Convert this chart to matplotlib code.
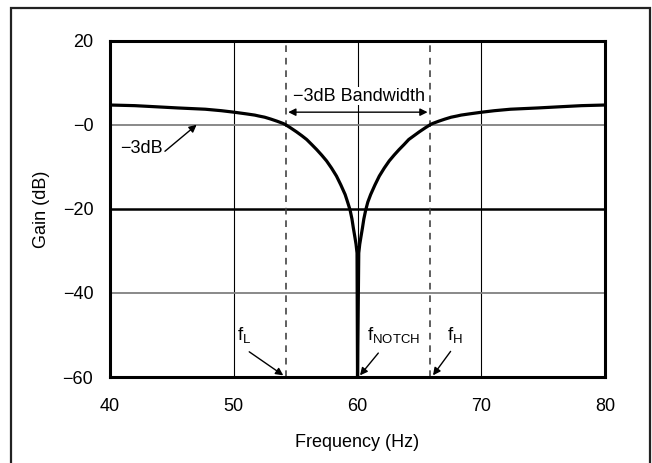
import numpy as np
import matplotlib
matplotlib.use('Agg')
from matplotlib import pyplot as plt
from matplotlib.patches import Rectangle

plt.rcParams['font.family'] = ['Liberation Sans', 'DejaVu Sans']
plt.rcParams['mathtext.fontset'] = 'custom'
plt.rcParams['mathtext.rm'] = 'Liberation Sans'
plt.rcParams['mathtext.it'] = 'Liberation Sans'

# notch response (Hz, dB)
freq = [40.0, 42.0, 43.6, 45.5, 47.7, 49.0, 50.0, 51.0, 51.7, 52.0, 52.5, 53.0,
        53.5, 54.0, 54.2, 54.6, 55.08, 55.5, 55.89, 56.3, 56.7, 57.1, 57.5, 57.9,
        58.3, 58.65, 59.0, 59.2, 59.4, 59.55, 59.66, 59.78, 59.88, 59.96, 60.0,
        60.1, 60.18, 60.28, 60.4, 60.51, 60.66, 60.83, 61.06, 61.41, 61.76, 62.16,
        62.56, 62.96, 63.36, 63.76, 64.14, 64.56, 64.98, 65.46, 65.86, 66.06, 66.56,
        67.06, 67.56, 68.06, 68.36, 69.06, 70.06, 71.06, 72.36, 74.56, 76.46, 78.1, 80.0]
gain = [4.7, 4.55, 4.3, 4.0, 3.7, 3.35, 3.0, 2.6, 2.3, 2.1, 1.8, 1.35,
        0.85, 0.3, 0.0, -0.75, -1.7, -2.6, -3.5, -4.7, -5.9, -7.2, -8.6, -10.3,
        -12.2, -14.3, -16.6, -18.4, -20.3, -22.4, -24.5, -26.6, -28.4, -30.5, -60.0,
        -30.5, -28.4, -26.6, -24.5, -22.4, -20.3, -18.4, -16.6, -14.3, -12.2, -10.3,
        -8.6, -7.2, -5.9, -4.7, -3.5, -2.6, -1.7, -0.75, 0.0, 0.3, 0.85,
        1.35, 1.8, 2.1, 2.3, 2.6, 3.0, 3.35, 3.7, 4.0, 4.3, 4.55, 4.7]

f_low = 54.2
f_high = 65.86
f_notch = 60.0

xticks = [40, 50, 60, 70, 80]
yticks = [-60, -40, -20, 0, 20]
ytick_labels = ['\u221260', '\u221240', '\u221220', '\u22120', '20']

fs = 13

fig = plt.figure(figsize=(6.52, 4.63), dpi=100)
ax = fig.add_axes([0.1687, 0.1857, 0.7593, 0.7264])

# grid
for x in [50, 60, 70]:
    ax.axvline(x, color='black', lw=0.8, zorder=1)
ax.axhline(0, color='#808080', lw=1.3, zorder=1)
ax.axhline(-40, color='#808080', lw=1.3, zorder=1)
ax.axhline(-20, color='black', lw=1.8, zorder=1)
ax.axvline(f_low, color='#444444', lw=1.2, ls=(0, (4, 3.5)), zorder=1)
ax.axvline(f_high, color='#444444', lw=1.2, ls=(0, (4, 3.5)), zorder=1)

ax.plot(freq, gain, color='black', lw=2.3, zorder=3, solid_joinstyle='round')

ax.set_xlim(40, 80)
ax.set_ylim(-60, 20)
ax.set_xticks(xticks)
ax.set_yticks(yticks)
ax.set_yticklabels(ytick_labels)
ax.tick_params(axis='y', length=0, labelsize=fs, pad=12)
ax.tick_params(axis='x', length=0, labelsize=fs, pad=15)
for s in ax.spines.values():
    s.set_linewidth(2.2)
ax.set_xlabel('Frequency (Hz)', fontsize=fs, labelpad=14)
ax.set_ylabel('Gain (dB)', fontsize=fs, labelpad=9)

arw = dict(arrowstyle='-|>', color='black', lw=1.0, mutation_scale=11,
           shrinkA=0, shrinkB=0)
dbl = dict(arrowstyle='<|-|>', color='black', lw=1.0, mutation_scale=11,
           shrinkA=0, shrinkB=0)

ax.annotate('', xy=(54.4, 3.0), xytext=(65.66, 3.0), arrowprops=dbl)
ax.text(60.1, 6.8, '\u22123dB Bandwidth', ha='center', va='center', fontsize=fs,
        bbox=dict(facecolor='white', edgecolor='none', pad=0.3), zorder=4)

ax.annotate('', xy=(47.0, 0.0), xytext=(44.44, -6.3), arrowprops=arw)
ax.text(44.3, -5.6, '\u22123dB', ha='right', va='center', fontsize=fs)

ax.annotate('', xy=(54.0, -59.6), xytext=(51.25, -54.0), arrowprops=arw)
ax.text(50.3, -50.0, r'$\mathrm{f_L}$', ha='left', va='center', fontsize=fs + 0.5)

ax.annotate('', xy=(60.2, -59.6), xytext=(61.68, -54.3), arrowprops=arw)
ax.text(60.75, -50.0, r'$\mathrm{f_{NOTCH}}$', ha='left', va='center', fontsize=fs + 0.5)

ax.annotate('', xy=(66.1, -59.6), xytext=(67.52, -53.9), arrowprops=arw)
ax.text(67.2, -50.0, r'$\mathrm{f_H}$', ha='left', va='center', fontsize=fs + 0.5)

# outer frame
fig.patches.append(Rectangle((11 / 652, -0.02), 639 / 652, 1 - 8 / 463 + 0.02,
                             transform=fig.transFigure, fill=False,
                             edgecolor='#222222', lw=1.6))

fig.savefig('out.png', dpi=100)
